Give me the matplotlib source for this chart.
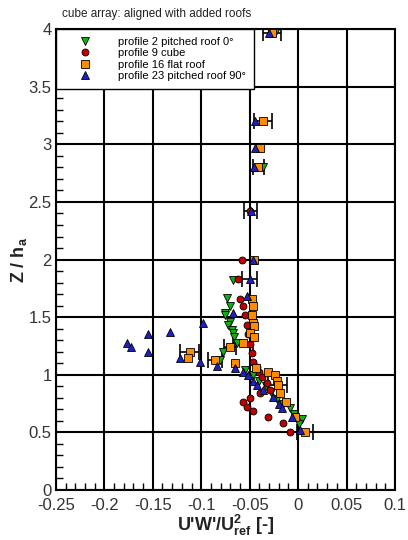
import numpy as np
import matplotlib.pyplot as plt
from matplotlib.ticker import MultipleLocator, FuncFormatter

plt.rcParams['font.family'] = ['Liberation Sans', 'DejaVu Sans']
plt.rcParams['axes.unicode_minus'] = False

# profile 2, pitched roof 0 deg
z_p2 = [3.97, 2.80, 1.82, 1.67, 1.60, 1.54, 1.52, 1.46, 1.43, 1.39, 1.36, 1.33,
        1.28, 1.20, 1.13, 1.08, 1.04, 1.00, 0.95, 0.90, 0.85, 0.79, 0.75, 0.71,
        0.66, 0.62, 0.57]
u_p2 = [-0.024, -0.036, -0.067, -0.073, -0.070, -0.075, -0.075, -0.070, -0.072,
        -0.068, -0.067, -0.066, -0.063, -0.078, -0.081, -0.065, -0.055, -0.047,
        -0.040, -0.033, -0.028, -0.022, -0.016, -0.008, -0.004, 0.004, 0.001]

# profile 9, cube
z_p9 = [2.42, 2.00, 1.83, 1.66, 1.60, 1.52, 1.43, 1.35, 1.27, 1.19, 1.11, 1.07,
        1.02, 0.98, 0.93, 0.87, 0.84, 0.80, 0.76, 0.72, 0.69, 0.63, 0.58, 0.50]
u_p9 = [-0.050, -0.058, -0.062, -0.060, -0.057, -0.055, -0.053, -0.052, -0.050,
        -0.048, -0.047, -0.042, -0.040, -0.037, -0.032, -0.029, -0.039, -0.050,
        -0.057, -0.053, -0.047, -0.031, -0.016, -0.008]

# profile 16, flat roof
z_p16 = [3.97, 3.20, 2.97, 2.80, 2.00, 1.66, 1.60, 1.52, 1.45, 1.42, 1.36, 1.33,
         1.28, 1.24, 1.20, 1.15, 1.13, 1.10, 1.06, 1.02, 1.00, 0.95, 0.91, 0.84,
         0.76, 0.63, 0.50]
u_p16 = [-0.027, -0.036, -0.039, -0.041, -0.045, -0.048, -0.047, -0.048, -0.047,
         -0.045, -0.050, -0.045, -0.057, -0.070, -0.112, -0.114, -0.086, -0.065,
         -0.043, -0.031, -0.024, -0.022, -0.021, -0.019, -0.012, -0.003, 0.007]
e_p16 = [0.009, 0.009, 0.0, 0.006, 0.0, 0.0, 0.0, 0.0, 0.0, 0.0, 0.0, 0.0,
         0.010, 0.006, 0.010, 0.0, 0.007, 0.0, 0.0, 0.0, 0.0, 0.0, 0.010, 0.0,
         0.0, 0.0, 0.008]

# profile 23, pitched roof 90 deg
z_p23 = [3.97, 3.20, 2.97, 2.80, 2.42, 2.00, 1.83, 1.68, 1.54, 1.45, 1.37, 1.35,
         1.28, 1.24, 1.20, 1.15, 1.11, 1.08, 1.06, 1.02, 1.00, 0.95, 0.91, 0.87,
         0.81, 0.75, 0.71, 0.63, 0.52]
u_p23 = [-0.030, -0.044, -0.044, -0.046, -0.049, -0.047, -0.050, -0.053, -0.067,
         -0.098, -0.132, -0.155, -0.177, -0.172, -0.155, -0.122, -0.101, -0.084,
         -0.065, -0.057, -0.052, -0.047, -0.042, -0.036, -0.026, -0.020, -0.017,
         -0.006, 0.002]
e_p23 = [0.0, 0.0, 0.0, 0.0, 0.007, 0.0, 0.008, 0.0, 0.0, 0.0, 0.0, 0.0,
         0.0, 0.0, 0.0, 0.0, 0.0, 0.0, 0.0, 0.0, 0.0, 0.0, 0.0, 0.0,
         0.0, 0.0, 0.0, 0.0, 0.0]

labels = ['profile 2 pitched roof 0°', 'profile 9 cube',
          'profile 16 flat roof', 'profile 23 pitched roof 90°']

fig = plt.figure(figsize=(4.08, 5.4), dpi=100)
ax = fig.add_axes([0.137, 0.0926, 0.831, 0.8534])


def bars(u, z, e):
    u, z, e = np.array(u), np.array(z), np.array(e)
    m = e > 0
    ax.errorbar(u[m], z[m], xerr=e[m], fmt='none', ecolor='black',
                elinewidth=1.2, capsize=6, capthick=1.2, zorder=3)


bars(u_p16, z_p16, e_p16)
bars(u_p23, z_p23, e_p23)

mk = dict(linestyle='none', markeredgecolor='black', markeredgewidth=0.6,
          zorder=4)
ax.plot(u_p2, z_p2, marker='v', color='#10b010', markersize=6, label=labels[0], **mk)
ax.plot(u_p9, z_p9, marker='o', color='#c00000', markersize=5, label=labels[1], **mk)
ax.plot(u_p16, z_p16, marker='s', color='#ff8c00', markersize=6, label=labels[2], **mk)
ax.plot(u_p23, z_p23, marker='^', color='#2020c0', markersize=6, label=labels[3], **mk)

ax.set_xlim(-0.25, 0.1)
ax.set_ylim(0, 4)
ax.xaxis.set_major_locator(MultipleLocator(0.05))
ax.xaxis.set_minor_locator(MultipleLocator(0.01))
ax.yaxis.set_major_locator(MultipleLocator(0.5))
ax.yaxis.set_minor_locator(MultipleLocator(0.1))
fmt = FuncFormatter(lambda v, p: '%g' % round(v, 3))
ax.xaxis.set_major_formatter(fmt)
ax.yaxis.set_major_formatter(fmt)
ax.grid(True, which='major', color='black', linewidth=1.5)
ax.tick_params(which='both', direction='in', labelsize=12, colors='black',
               labelcolor='#333333')
ax.tick_params(which='major', length=0, pad=3)
ax.tick_params(axis='x', which='major', pad=6)
ax.tick_params(which='minor', length=5, width=1)
for s in ax.spines.values():
    s.set_linewidth(1.5)

ax.set_xlabel(r"U'W'/U$_{\mathregular{ref}}^{\mathregular{2}}$ [-]",
              fontsize=13, fontweight='bold', color='#222222', labelpad=0)
ax.set_ylabel(r'Z / h$_{\mathregular{a}}$', fontsize=13, fontweight='bold',
              color='#222222', labelpad=0)

leg = ax.legend(loc='upper left', fontsize=8.0, frameon=True, fancybox=False,
                framealpha=1, shadow=False, borderaxespad=0, handlelength=3.9,
                handletextpad=1.0, borderpad=0.7, labelspacing=0.12)
leg.get_frame().set_edgecolor('black')
leg.get_frame().set_linewidth(1.0)
leg.set_zorder(5)

fig.text(0.152, 0.975, 'cube array: aligned with added roofs', fontsize=8.5,
         color='#222222', va='center')

fig.savefig('out.png', dpi=100)
